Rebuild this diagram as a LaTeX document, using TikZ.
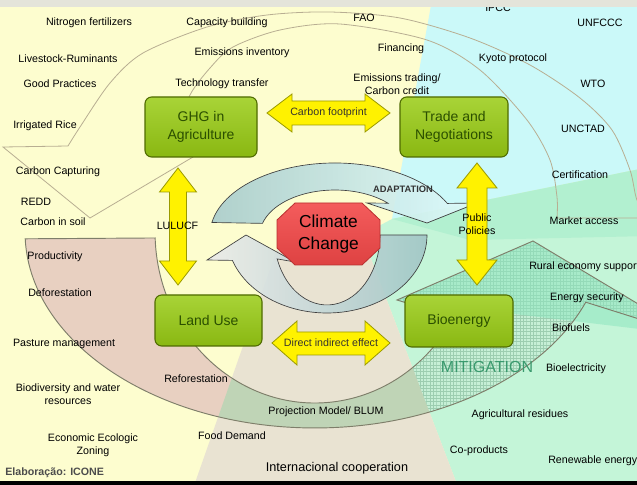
\documentclass[tikz,border=0pt]{standalone}
\usepackage{fontspec}
\setmainfont{Liberation Sans}
\usetikzlibrary{patterns}
\pgfdeclarepatternformonly{finegrid}{\pgfqpoint{-0.2pt}{-0.2pt}}{\pgfqpoint{2.7pt}{2.7pt}}{\pgfqpoint{2.5pt}{2.5pt}}{%
  \pgfsetlinewidth{0.3pt}%
  \pgfpathmoveto{\pgfqpoint{0pt}{0pt}}\pgfpathlineto{\pgfqpoint{2.5pt}{0pt}}%
  \pgfpathmoveto{\pgfqpoint{0pt}{0pt}}\pgfpathlineto{\pgfqpoint{0pt}{2.5pt}}%
  \pgfusepath{stroke}}
\definecolor{bgyellow}{HTML}{FDFDCF}
\definecolor{cyanc}{HTML}{CBF9F9}
\definecolor{mintc}{HTML}{C4F5D8}
\definecolor{mintd}{HTML}{B2F0D0}
\definecolor{beigec}{HTML}{E9E3D2}
\definecolor{pinkc}{HTML}{E8D0C1}
\definecolor{ggc}{HTML}{BFD4B6}
\definecolor{mintg}{HTML}{C6EFD6}
\definecolor{gridc}{HTML}{9CCDB0}
\definecolor{tealc}{HTML}{8EE6C0}
\definecolor{ringc}{HTML}{B8AE92}
\definecolor{bandline}{HTML}{7E7E6A}
\definecolor{boxfill}{HTML}{99CC14}
\definecolor{boxline}{HTML}{4F6B00}
\definecolor{boxtext}{HTML}{2B4F00}
\definecolor{arrowline}{HTML}{9A9A00}
\definecolor{redl}{HTML}{F45C5C}
\definecolor{redd}{HTML}{DE4242}
\definecolor{redline}{HTML}{B83030}
\definecolor{topgray}{HTML}{E4E4DA}
\definecolor{mitc}{HTML}{3A9A6E}
\tikzset{
  lbl/.style={font=\fontsize{8}{9.5}\selectfont, text=black, inner sep=0pt, align=center},
  alab/.style={font=\fontsize{8}{9.5}\selectfont, text=black!85!yellow!60!black, inner sep=0pt, align=center},
  gbox/.style={draw=boxline, top color=boxfill!85!white, bottom color=boxfill!90!black, rounded corners=5pt, line width=0.8pt, text=boxtext, font=\fontsize{10.5}{14}\selectfont, align=center, inner sep=0pt},
  yarrow/.style={fill=yellow, draw=arrowline, line width=0.6pt, line join=miter},
  ringline/.style={draw=ringc, line width=0.6pt},
  bandedge/.style={draw=bandline, line width=0.7pt},
  carrow/.style={draw=black!75, line width=0.5pt},
}
\begin{document}
\begin{tikzpicture}[x=0.75pt,y=-0.75pt]
\useasboundingbox (0,0) rectangle (637,485);
\clip (0,0) rectangle (637,485);
% backgrounds
\fill[bgyellow] (0,0) rectangle (637,485);
\fill[cyanc] (432,0) -- (650,0) -- (650,167) -- (392,219) -- cycle;
\fill[mintc] (392,219) -- (650,167) -- (650,500) -- (463,500) -- (362,235) -- cycle;
\fill[mintd] (392,219) -- (650,167) -- (650,236) -- (470,240) -- cycle;
\fill[beigec] (282,235) -- (189,500) -- (463,500) -- (362,235) -- cycle;
% top big arrow outline
\draw[ringline] plot[smooth] coordinates {(650,218) (637,200) (630,170) (612,130) (580,98) (530,65) (470,38) (400,18) (330,12) (267,15) (207,27) (143,53) (110,83) (80,127) (68,146)}
  -- (3,147) -- (90,218) -- (193,157)
  -- plot[smooth] coordinates {(193,157) (182,125) (190,95) (210,68) (233,47) (280,30) (340,24) (427,40) (480,70) (527,120) (550,160) (557,197) (557,218)}
  -- (650,218);
% lower big arrow band
\def\lowband{(25.2,238.8) arc[start angle=178, end angle=21, x radius=290, y radius=196] -- (690,335) -- (533,241) -- (397,300) -- (453.6,317.5) arc[start angle=30, end angle=178, x radius=160, y radius=171] -- cycle}
\fill[pinkc] \lowband;
\begin{scope}
  \clip \lowband;
  \fill[ggc] (312,150) -- (330,150) -- (463,500) -- (189,500) -- cycle;
  \fill[mintg] (330,150) -- (700,150) -- (700,500) -- (463,500) -- cycle;
  \fill[pattern=finegrid, pattern color=gridc] (330,150) -- (700,150) -- (700,500) -- (463,500) -- cycle;
\end{scope}
\fill[tealc, opacity=0.55] (397,300) -- (533,241) -- (690,335) -- cycle;
\draw[bandedge] \lowband;
% central arrows
\path[carrow, left color=gray!30!teal!40!white, right color=cyanc!60!white, fill opacity=0.9]
  (211.9,222.5) arc[start angle=190, end angle=334, x radius=125, y radius=72]
  -- (477,203) -- (427,223) -- (367,203) -- (388,203.2)
  arc[start angle=315, end angle=195, x radius=75, y radius=45] -- cycle;
\path[carrow, left color=black!8, right color=gray!35!teal!45!white, fill opacity=0.9]
  (427,235) arc[start angle=0, end angle=161, x radius=100, y radius=78]
  -- (207,260) -- (246,235) -- (295,262) -- (277.2,258.9)
  arc[start angle=160, end angle=0, x radius=53, y radius=70] -- cycle;
% octagon
\path[draw=redline, line width=0.6pt, top color=redl, bottom color=redd]
  (295,203) -- (362,203) -- (380,220) -- (380,248) -- (362,265) -- (295,265) -- (277,248) -- (277,220) -- cycle;
\node[font=\fontsize{13}{16.5}\selectfont, align=center, inner sep=0pt] (cc) at (328.5,234) {Climate\\Change};
% green boxes
\node[gbox, minimum width=84pt, minimum height=45pt] (ghg) at (201,127) {GHG in\\Agriculture};
\node[gbox, minimum width=81pt, minimum height=45pt] (trade) at (454,127) {Trade and\\Negotiations};
\node[gbox, minimum width=80.25pt, minimum height=38.25pt] (land) at (208.5,320.5) {Land Use};
\node[gbox, minimum width=81pt, minimum height=39pt] (bio) at (459,321) {Bioenergy};
% yellow double arrows
\draw[yarrow] (267,113) -- (292,94) -- (292,101) -- (365,101) -- (365,94) -- (390,113) -- (365,132) -- (365,125) -- (292,125) -- (292,132) -- cycle;
\node[alab] (cfp) at (328.5,113) {Carbon footprint};
\draw[yarrow] (272,343) -- (297,321) -- (297,332) -- (365,332) -- (365,321) -- (390,343) -- (365,365) -- (365,355) -- (297,355) -- (297,365) -- cycle;
\node[alab] (die) at (331,343) {Direct indirect effect};
\draw[yarrow] (178,168) -- (196.5,192) -- (186.5,192) -- (186.5,261) -- (196.5,261) -- (178,285) -- (159.5,261) -- (169.5,261) -- (169.5,192) -- (159.5,192) -- cycle;
\node[lbl] (lulucf) at (177.5,226) {LULUCF};
\draw[yarrow] (477,163) -- (497,188) -- (487,188) -- (487,260) -- (497,260) -- (477,285) -- (457,260) -- (467,260) -- (467,188) -- (457,188) -- cycle;
\node[lbl] (pp) at (477,224) {Public\\Policies};
% labels
\node[lbl] (t1) at (89,23) {Nitrogen fertilizers};
\node[lbl] (t2) at (227,23) {Capacity building};
\node[lbl] (t3) at (68,59) {Livestock-Ruminants};
\node[lbl] (t4) at (242,53) {Emissions inventory};
\node[lbl] (t5) at (60,84) {Good Practices};
\node[lbl] (t6) at (222,84) {Technology transfer};
\node[lbl] (t7) at (45,126) {Irrigated Rice};
\node[lbl] (t8) at (364,18) {FAO};
\node[lbl] (t9) at (498,8) {IPCC};
\node[lbl] (t10) at (600,23) {UNFCCC};
\node[lbl] (t11) at (401,49) {Financing};
\node[lbl] (t12) at (513,59) {Kyoto protocol};
\node[lbl] (t13) at (397,84.5) {Emissions trading/\\Carbon credit};
\node[lbl] (t14) at (593,84) {WTO};
\node[lbl] (t15) at (583,129) {UNCTAD};
\node[lbl] (t16) at (58,172) {Carbon Capturing};
\node[lbl] (t17) at (36,202) {REDD};
\node[lbl] (t18) at (53,222) {Carbon in soil};
\node[lbl] (t19) at (55,257) {Productivity};
\node[lbl] (t20) at (60,293) {Deforestation};
\node[font=\bfseries\fontsize{7}{8}\selectfont, text=black!80, inner sep=0pt] (adapt) at (403,189) {ADAPTATION};
\node[lbl] (t21) at (580,175) {Certification};
\node[lbl] (t22) at (584,221) {Market access};
\node[lbl, anchor=west] (t23) at (529,267) {Rural economy support};
\node[lbl] (t24) at (587,298) {Energy security};
\node[lbl] (t25) at (64,344) {Pasture management};
\node[lbl] (t26) at (196,379) {Reforestation};
\node[lbl] (t27) at (68,394) {Biodiversity and water\\resources};
\node[lbl] (t28) at (93,445.5) {Economic Ecologic\\Zoning};
\node[lbl] (t29) at (232,436) {Food Demand};
\node[lbl] (t30) at (326,412) {Projection Model/ BLUM};
\node[lbl] (t31) at (571,328) {Biofuels};
\node[font=\fontsize{12}{14}\selectfont, text=mitc, inner sep=0pt] (mit) at (487,367) {MITIGATION};
\node[lbl] (t32) at (576,369) {Bioelectricity};
\node[lbl] (t33) at (520,415) {Agricultural residues};
\node[lbl] (t34) at (479,451) {Co-products};
\node[lbl, anchor=west] (t35) at (548,461) {Renewable energy};
\node[font=\fontsize{9.5}{11}\selectfont, inner sep=0pt] (t36) at (337,468) {Internacional cooperation};
\node[font=\bfseries\fontsize{8}{9}\selectfont, text=black!70, inner sep=0pt, anchor=west] (elab) at (5,473) {Elaboração: ICONE};
% frame strips
\fill[topgray] (0,0) rectangle (637,7.5);
\fill[black] (0,481) rectangle (637,485);
\end{tikzpicture}
\end{document}
